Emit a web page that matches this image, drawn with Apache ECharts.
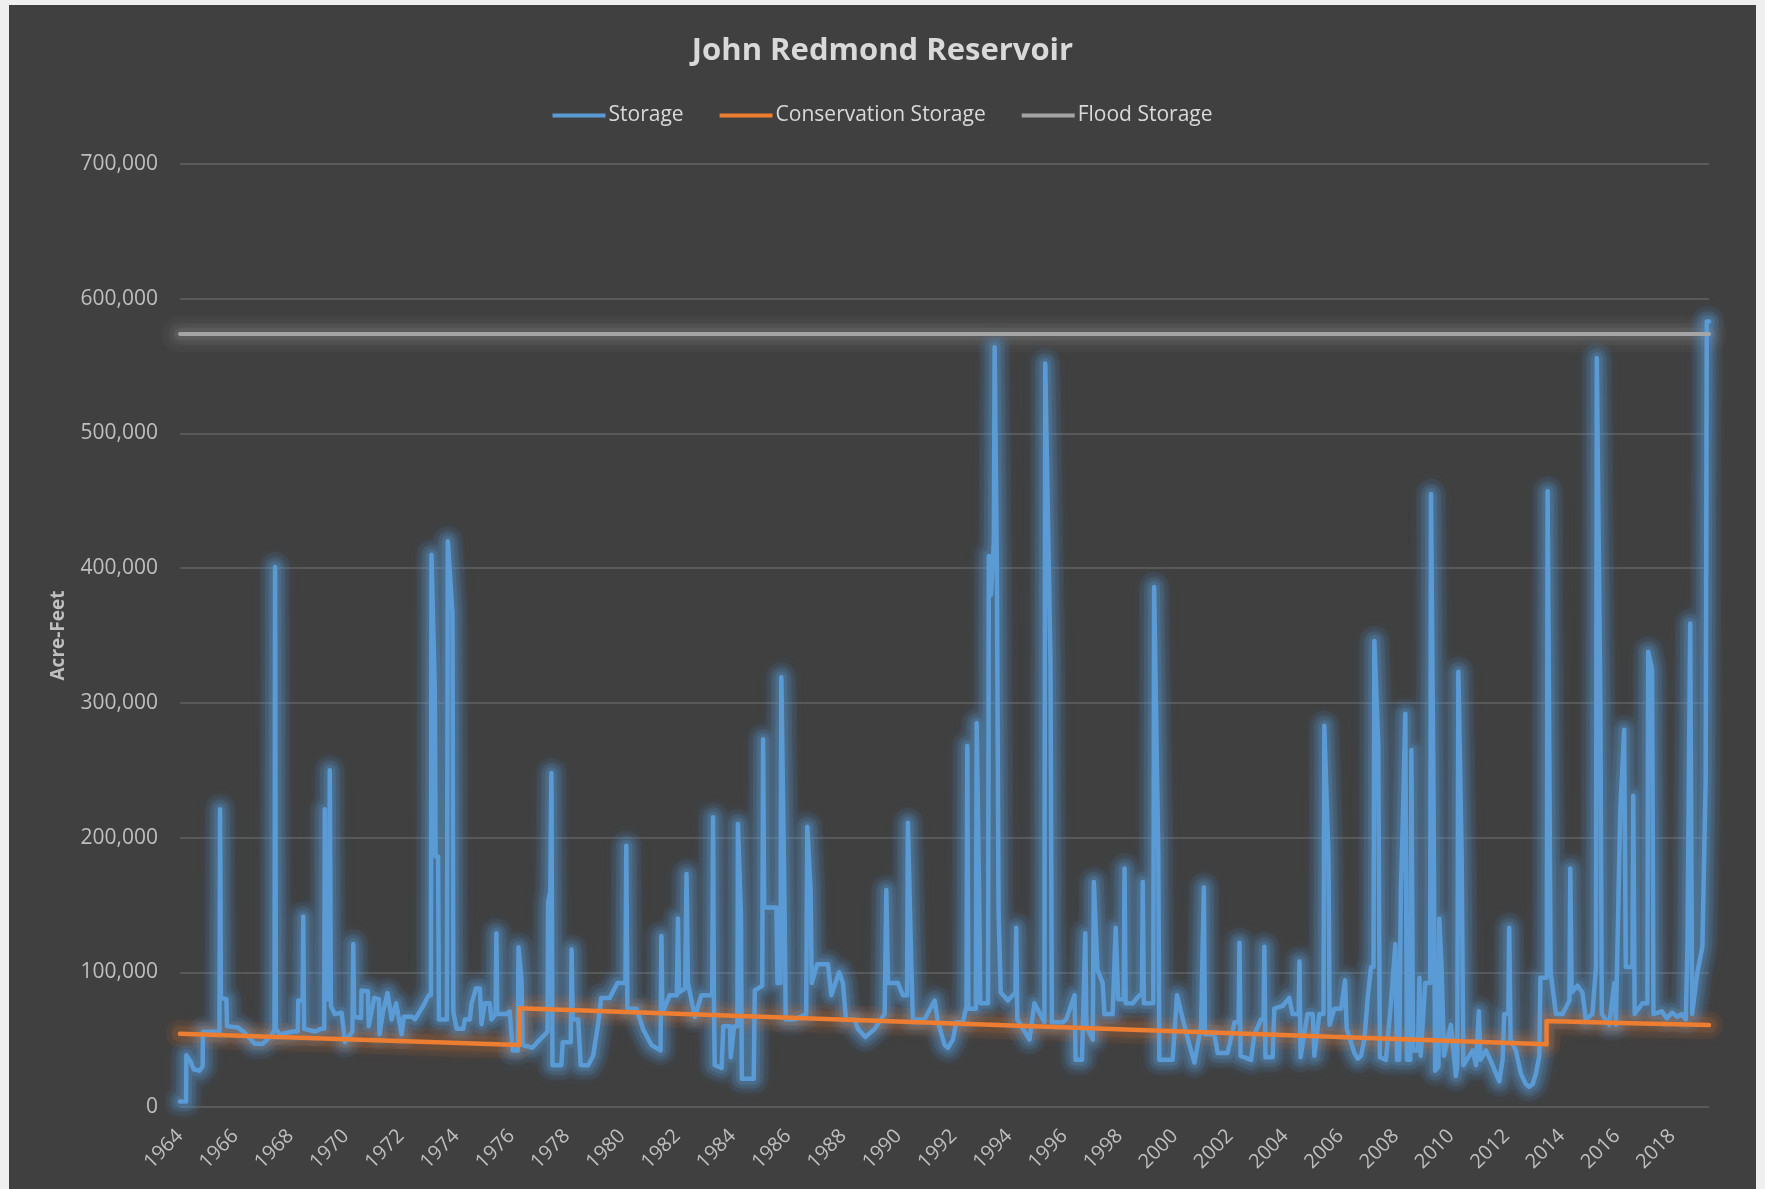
<!DOCTYPE html>
<html>
<head>
<meta charset="utf-8">
<title>John Redmond Reservoir</title>
<script src="https://cdn.jsdelivr.net/npm/echarts@6/dist/echarts.min.js"></script>
<style>
  html, body { margin: 0; padding: 0; width: 1765px; height: 1189px; overflow: hidden; background: #efefef; }
  #chart { position: absolute; left: 9px; top: 5px; width: 1747px; height: 1184px; background: #404040; }
</style>
</head>
<body>
<div id="chart"></div>
<script>
// values: [decimal year, acre-feet]
const storage = [
  [1964.00, 4000], [1964.22, 4000], [1964.23, 38500], [1964.40, 33000], [1964.50, 28000], [1964.70, 27000], [1964.82, 30000], [1964.83, 55800],
  [1965.43, 56000], [1965.45, 221000], [1965.48, 81000], [1965.68, 80000], [1965.70, 60000], [1966.10, 59000], [1966.35, 55000], [1966.70, 47000],
  [1967.00, 47000], [1967.30, 53000], [1967.42, 57000], [1967.44, 400800], [1967.47, 58000], [1967.60, 54000], [1968.10, 56000], [1968.26, 56000],
  [1968.28, 79000], [1968.44, 79000], [1968.46, 141500], [1968.49, 58000], [1968.90, 56000], [1969.10, 58000], [1969.22, 58000], [1969.24, 221000],
  [1969.27, 80000], [1969.39, 80000], [1969.42, 250000], [1969.46, 75000], [1969.60, 69000], [1969.85, 70000], [1969.97, 48000], [1970.24, 56000],
  [1970.27, 121000], [1970.30, 67000], [1970.55, 66000], [1970.57, 86500], [1970.80, 86000], [1970.83, 60000], [1971.03, 81000], [1971.20, 80000],
  [1971.22, 54000], [1971.35, 71000], [1971.51, 84600], [1971.66, 65000], [1971.82, 77000], [1972.02, 54000], [1972.10, 67000], [1972.40, 67000],
  [1972.50, 65000], [1972.80, 75000], [1973.00, 83000], [1973.08, 83000], [1973.10, 410000], [1973.22, 310000], [1973.25, 186000], [1973.34, 186000],
  [1973.37, 65000], [1973.66, 65000], [1973.69, 420000], [1973.86, 367000], [1973.89, 71000], [1974.01, 58000], [1974.25, 58000], [1974.31, 65000],
  [1974.49, 65000], [1974.55, 77000], [1974.71, 88000], [1974.85, 88000], [1974.91, 61500], [1975.03, 77000], [1975.21, 77000], [1975.27, 65000],
  [1975.42, 69000], [1975.45, 129000], [1975.48, 69000], [1975.82, 69000], [1975.93, 71000], [1976.04, 42000], [1976.22, 42000], [1976.25, 118500],
  [1976.36, 94000], [1976.40, 46000], [1976.75, 44000], [1977.02, 50000], [1977.30, 55800], [1977.32, 152000], [1977.40, 160000], [1977.44, 248000],
  [1977.48, 31000], [1977.80, 31000], [1977.85, 48000], [1978.14, 48000], [1978.17, 117000], [1978.21, 65000], [1978.41, 65000], [1978.50, 31000],
  [1978.77, 31000], [1978.95, 38000], [1979.13, 61500], [1979.24, 81000], [1979.55, 81000], [1979.83, 92000], [1980.12, 92000], [1980.15, 194000],
  [1980.19, 73000], [1980.52, 73000], [1980.76, 57700], [1981.06, 46000], [1981.39, 42000], [1981.42, 127000], [1981.46, 70000], [1981.72, 83000],
  [1981.98, 83000], [1982.02, 140000], [1982.06, 85000], [1982.28, 88000], [1982.33, 173000], [1982.38, 92000], [1982.63, 67000], [1982.87, 83000],
  [1983.26, 83000], [1983.29, 215000], [1983.32, 81000], [1983.35, 31000], [1983.60, 29000], [1983.66, 60000], [1983.90, 60000], [1983.93, 37000],
  [1984.05, 60000], [1984.17, 60000], [1984.19, 210000], [1984.30, 142000], [1984.33, 21000], [1984.76, 21000], [1984.80, 86500], [1985.07, 90000],
  [1985.10, 273000], [1985.14, 148000], [1985.58, 148000], [1985.62, 92000], [1985.73, 92000], [1985.76, 319000], [1985.88, 144000], [1985.92, 65000],
  [1986.24, 65000], [1986.66, 69000], [1986.70, 208000], [1986.82, 161000], [1986.86, 92000], [1987.06, 106000], [1987.45, 106000], [1987.57, 83000],
  [1987.85, 100000], [1987.99, 92000], [1988.10, 65000], [1988.41, 65000], [1988.53, 58000], [1988.80, 52000], [1989.14, 58000], [1989.50, 69000],
  [1989.56, 161000], [1989.62, 92000], [1989.98, 92000], [1990.16, 83000], [1990.31, 83000], [1990.34, 211000], [1990.46, 108000], [1990.52, 65000],
  [1990.94, 65000], [1991.31, 79000], [1991.43, 63000], [1991.67, 46000], [1991.79, 44000], [1991.97, 50000], [1992.09, 63000], [1992.33, 63000],
  [1992.46, 75000], [1992.49, 268000], [1992.53, 73000], [1992.80, 73000], [1992.83, 285000], [1992.92, 154000], [1992.96, 77000], [1993.24, 77000],
  [1993.27, 409000], [1993.35, 380000], [1993.45, 420000], [1993.48, 564000], [1993.56, 400000], [1993.62, 146000], [1993.70, 85000], [1993.96, 79000],
  [1994.23, 85000], [1994.26, 133000], [1994.30, 65000], [1994.74, 50000], [1994.92, 77000], [1995.28, 63000], [1995.31, 552000], [1995.50, 329000],
  [1995.55, 63000], [1995.95, 63000], [1996.07, 65000], [1996.37, 83000], [1996.41, 35000], [1996.64, 35000], [1996.76, 129000], [1996.80, 60000],
  [1997.03, 50000], [1997.07, 167000], [1997.20, 102000], [1997.39, 92000], [1997.45, 69000], [1997.75, 69000], [1997.86, 133000], [1997.95, 80000],
  [1998.15, 80000], [1998.18, 177000], [1998.22, 77000], [1998.48, 77000], [1998.72, 83000], [1998.81, 83000], [1998.84, 167000], [1998.88, 77000],
  [1999.22, 77000], [1999.25, 386000], [1999.40, 190000], [1999.44, 35000], [1999.92, 35000], [2000.08, 83000], [2000.29, 65000], [2000.53, 46000],
  [2000.71, 33000], [2000.95, 60000], [2001.02, 60000], [2001.05, 163000], [2001.09, 54000], [2001.43, 54000], [2001.55, 40000], [2001.91, 40000],
  [2002.16, 63000], [2002.31, 63000], [2002.34, 122000], [2002.38, 38000], [2002.76, 35000], [2002.88, 54000], [2003.12, 65000], [2003.21, 65000],
  [2003.24, 119000], [2003.28, 37000], [2003.54, 37000], [2003.60, 73000], [2003.90, 75000], [2004.14, 81000], [2004.26, 69000], [2004.48, 69000],
  [2004.51, 108000], [2004.55, 37000], [2004.80, 69000], [2004.99, 69000], [2005.05, 38000], [2005.23, 69000], [2005.38, 69000], [2005.41, 283000],
  [2005.56, 185000], [2005.60, 61000], [2005.77, 73000], [2006.02, 73000], [2006.16, 94000], [2006.22, 58000], [2006.50, 40000], [2006.62, 36000],
  [2006.74, 38000], [2006.86, 50000], [2006.98, 81000], [2007.10, 104000], [2007.19, 104000], [2007.22, 346000], [2007.36, 271000], [2007.42, 37000],
  [2007.64, 35000], [2007.82, 77000], [2007.98, 121000], [2008.04, 35000], [2008.12, 35000], [2008.18, 161000], [2008.24, 204000], [2008.34, 292000],
  [2008.40, 35000], [2008.52, 35000], [2008.56, 265000], [2008.62, 42000], [2008.80, 42000], [2008.85, 96000], [2008.90, 38000], [2009.06, 92000],
  [2009.24, 92000], [2009.27, 455000], [2009.36, 233000], [2009.42, 27000], [2009.54, 30000], [2009.57, 140000], [2009.66, 100000], [2009.74, 38000],
  [2009.99, 61000], [2010.17, 23000], [2010.22, 30000], [2010.26, 323000], [2010.38, 185000], [2010.44, 31000], [2010.78, 42000], [2010.90, 31000],
  [2011.00, 71000], [2011.06, 35000], [2011.26, 42000], [2011.50, 31000], [2011.74, 19000], [2011.86, 35000], [2011.92, 69000], [2012.07, 69000],
  [2012.10, 133000], [2012.15, 50000], [2012.34, 42000], [2012.52, 25000], [2012.70, 17000], [2012.82, 15000], [2012.95, 17000], [2013.07, 25000],
  [2013.19, 38000], [2013.23, 96000], [2013.46, 96000], [2013.49, 457000], [2013.60, 100000], [2013.79, 69000], [2014.03, 69000], [2014.28, 79000],
  [2014.31, 177000], [2014.36, 85000], [2014.57, 90000], [2014.75, 85000], [2014.87, 65000], [2015.11, 69000], [2015.24, 104000], [2015.27, 556000],
  [2015.40, 296000], [2015.45, 69000], [2015.72, 61000], [2015.90, 92000], [2015.96, 61000], [2016.12, 221000], [2016.26, 280000], [2016.32, 104000],
  [2016.56, 104000], [2016.59, 231000], [2016.64, 69000], [2016.92, 77000], [2017.10, 77000], [2017.13, 338000], [2017.27, 325000], [2017.32, 69000],
  [2017.62, 71000], [2017.80, 66000], [2018.00, 70000], [2018.18, 67000], [2018.34, 69000], [2018.49, 65000], [2018.55, 119000], [2018.62, 119000],
  [2018.65, 359000], [2018.72, 69000], [2018.91, 100000], [2019.09, 119000], [2019.21, 244000], [2019.25, 583000], [2019.33, 583000]
];

const conservation = [
  [1964.00, 54400], [1976.28, 46000], [1976.28, 73300], [2013.45, 46500],
  [2013.45, 63800], [2016.50, 62200], [2016.50, 63200], [2019.33, 60800]
];

const flood = [[1964.00, 573800], [2019.33, 573800]];

const seriesNames = ['Storage', 'Conservation Storage', 'Flood Storage'];
const colors = ['#5B9BD5', '#ED7D31', '#A5A5A5'];

const xMin = 1964;
const xMax = 2019.33;
const yTicks = [0, 100000, 200000, 300000, 400000, 500000, 600000, 700000];

const font = '"Open Sans", "Noto Sans", sans-serif';

// faint wide strokes under a line, stacked to fake a soft glow
function glow(data, rgb, layers) {
  return layers.map(([width, alpha]) => ({
    name: 'glow',
    type: 'line',
    data: data,
    silent: true,
    showSymbol: false,
    z: 1,
    lineStyle: {
      color: `rgba(${rgb},${alpha})`, width: width, cap: 'round', join: 'round',
      shadowColor: `rgba(${rgb},1)`, shadowBlur: 10
    }
  }));
}

function mainLine(i, data, width) {
  return {
    name: seriesNames[i],
    type: 'line',
    data: data,
    showSymbol: false,
    z: 3 + i,
    itemStyle: { color: colors[i] },
    lineStyle: { color: colors[i], width: width, cap: 'round', join: 'round' }
  };
}

const chart = echarts.init(document.getElementById('chart'));

chart.setOption({
  backgroundColor: '#404040',
  animation: false,
  textStyle: { fontFamily: font },
  title: {
    text: 'John Redmond Reservoir',
    left: 'center',
    top: 26,
    textStyle: { color: '#D9D9D9', fontSize: 31, fontWeight: 'bold', fontFamily: font }
  },
  legend: {
    data: seriesNames,
    top: 95,
    left: 'center',
    icon: 'rect',
    itemWidth: 53,
    itemHeight: 4,
    itemGap: 36,
    textStyle: { color: '#D9D9D9', fontSize: 21, fontFamily: font, padding: [0, 0, 0, -2] }
  },
  grid: { left: 171, top: 159, width: 1529, height: 943 },
  xAxis: {
    type: 'value',
    min: xMin,
    max: xMax,
    interval: 2,
    axisLine: { show: false },
    axisTick: { show: false },
    splitLine: { show: false },
    axisLabel: {
      rotate: 45,
      margin: 26,
      color: '#BFBFBF',
      fontSize: 20,
      fontFamily: font,
      showMaxLabel: false,
      formatter: v => (Number.isInteger(v) ? String(v) : '')
    }
  },
  yAxis: {
    type: 'value',
    min: yTicks[0],
    max: yTicks[yTicks.length - 1],
    interval: 100000,
    name: 'Acre-Feet',
    nameLocation: 'middle',
    nameGap: 112,
    nameTextStyle: { color: '#BFBFBF', fontSize: 19, fontWeight: 'bold', fontFamily: font },
    axisLine: { show: false },
    axisTick: { show: false },
    axisLabel: {
      color: '#BFBFBF',
      fontSize: 21,
      margin: 22,
      fontFamily: font,
      formatter: v => v.toLocaleString('en-US')
    },
    splitLine: { lineStyle: { color: '#595959', width: 2 } }
  },
  series: [
    ...glow(flood, '200,200,200', [[36, 0.03], [22, 0.04], [12, 0.06]]),
    ...glow(storage, '91,155,213', [[30, 0.08], [20, 0.12], [12, 0.18]]),
    ...glow(conservation, '237,125,49', [[28, 0.06], [16, 0.1]]),
    mainLine(0, storage, 4.5),
    mainLine(1, conservation, 4.5),
    mainLine(2, flood, 4)
  ]
});
</script>
</body>
</html>
